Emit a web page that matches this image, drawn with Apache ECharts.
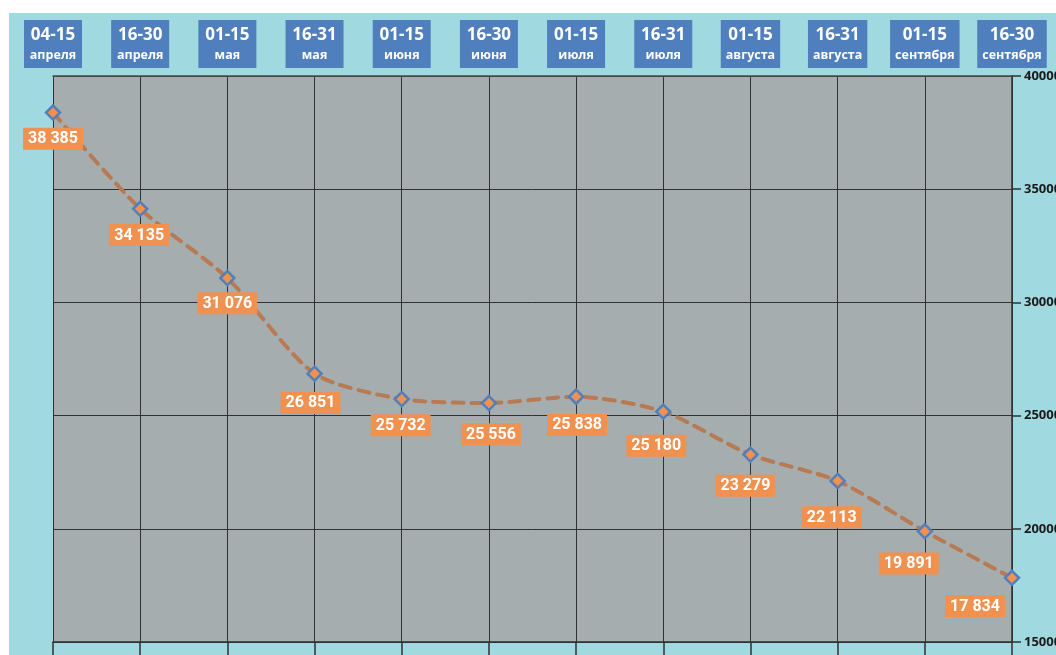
<!DOCTYPE html>
<html>
<head>
<meta charset="utf-8">
<script src="https://cdn.jsdelivr.net/npm/echarts@6/dist/echarts.min.js"></script>
<style>
  html, body { margin: 0; padding: 0; background: #ffffff; }
  #bg { position: absolute; left: 9px; top: 13px; width: 1047px; height: 642px; background: #A1D9E1; }
  #chart { position: absolute; left: 0; top: 0; width: 1056px; height: 655px; }
</style>
</head>
<body>
<div id="bg"></div>
<div id="chart"></div>
<script>
// ---- data ----
const periods = ['04-15', '16-30', '01-15', '16-31', '01-15', '16-30', '01-15', '16-31', '01-15', '16-31', '01-15', '16-30'];
const months = ['апреля', 'апреля', 'мая', 'мая', 'июня', 'июня', 'июля', 'июля', 'августа', 'августа', 'сентября', 'сентября'];
const values = [38385, 34135, 31076, 26851, 25732, 25556, 25838, 25180, 23279, 22113, 19891, 17834];
const yTicks = [15000, 20000, 25000, 30000, 35000, 40000];

// ---- label layout nudges (dx, dy) ----
const labelNudge = [[0,-3],[-1,-3],[0,-4],[-4,0],[-1,-3],[2,2],[1,-1],[-7,5],[-5,2],[-6,7],[-16,3],[-37,-1]];

const categories = periods.map((p, i) => p + '\n' + months[i]);
const fmt = v => String(v).replace(/\B(?=(\d{3})+(?!\d))/g, ' ');

const chart = echarts.init(document.getElementById('chart'));
const lineCol = '#2f3133';

chart.setOption({
  backgroundColor: 'transparent',
  animation: false,
  grid: {
    left: 53, right: 44, top: 76, bottom: 13,
    containLabel: false,
    outerBoundsMode: 'none',
    show: true, backgroundColor: '#A6ADAF', borderWidth: 0
  },
  xAxis: [{
    type: 'category',
    position: 'top',
    data: categories,
    boundaryGap: false,
    axisLine: { show: true, lineStyle: { color: '#4a4d4f', width: 1.5 } },
    axisTick: { show: false },
    splitLine: { show: true, interval: 0, lineStyle: { color: lineCol, width: 1 } },
    axisLabel: {
      interval: 0,
      margin: 8,
      hideOverlap: false,
      formatter: (val) => {
        const parts = val.split('\n');
        return '{d|' + parts[0] + '}\n{m|' + parts[1] + '}';
      },
      backgroundColor: '#4F7FBD',
      padding: [4, 5, 4, 5],
      rich: {
        d: { fontFamily: 'Open Sans', fontWeight: 'bold', fontSize: 17, color: '#ffffff', lineHeight: 22, width: 48, align: 'center' },
        m: { fontFamily: 'Open Sans', fontWeight: 'bold', fontSize: 12.5, color: '#ffffff', lineHeight: 18, align: 'center' }
      }
    }
  }, {
    type: 'category',
    position: 'bottom',
    data: categories,
    boundaryGap: false,
    axisLine: { show: true, lineStyle: { color: lineCol, width: 1.5 } },
    axisTick: { show: true, interval: 0, length: 13, lineStyle: { color: lineCol, width: 1.5 } },
    axisLabel: { show: false },
    splitLine: { show: false }
  }],
  yAxis: {
    type: 'value',
    position: 'right',
    min: 15000, max: 40000, interval: 5000,
    axisLine: { show: true, lineStyle: { color: lineCol, width: 1.5 } },
    axisTick: { show: true, length: 9, lineStyle: { color: lineCol, width: 1.5 } },
    splitLine: { show: true, lineStyle: { color: lineCol, width: 1 } },
    axisLabel: {
      margin: 12,
      fontFamily: 'Open Sans', fontWeight: 'bold', fontSize: 13, color: '#1a1a1a',
      formatter: v => String(v),
      customValues: yTicks
    }
  },
  series: [{
    type: 'line',
    xAxisIndex: 0,
    smooth: 0.25,
    data: values.map((v, i) => ({
      value: v,
      label: { offset: labelNudge[i] }
    })),
    lineStyle: { color: '#B87A52', width: 4, type: [11, 8], cap: 'round' },
    symbol: 'diamond',
    symbolSize: 14,
    itemStyle: { color: '#F0914F', borderColor: '#4F7FBD', borderWidth: 2.5 },
    label: {
      show: true,
      position: 'bottom',
      distance: 10,
      formatter: p => fmt(p.value),
      backgroundColor: '#F0914F',
      color: '#ffffff',
      fontFamily: 'Roboto', fontWeight: 'bold', fontSize: 16,
      padding: [3, 5, 2, 5],
      lineHeight: 17
    },
    z: 5
  }]
});
</script>
</body>
</html>
